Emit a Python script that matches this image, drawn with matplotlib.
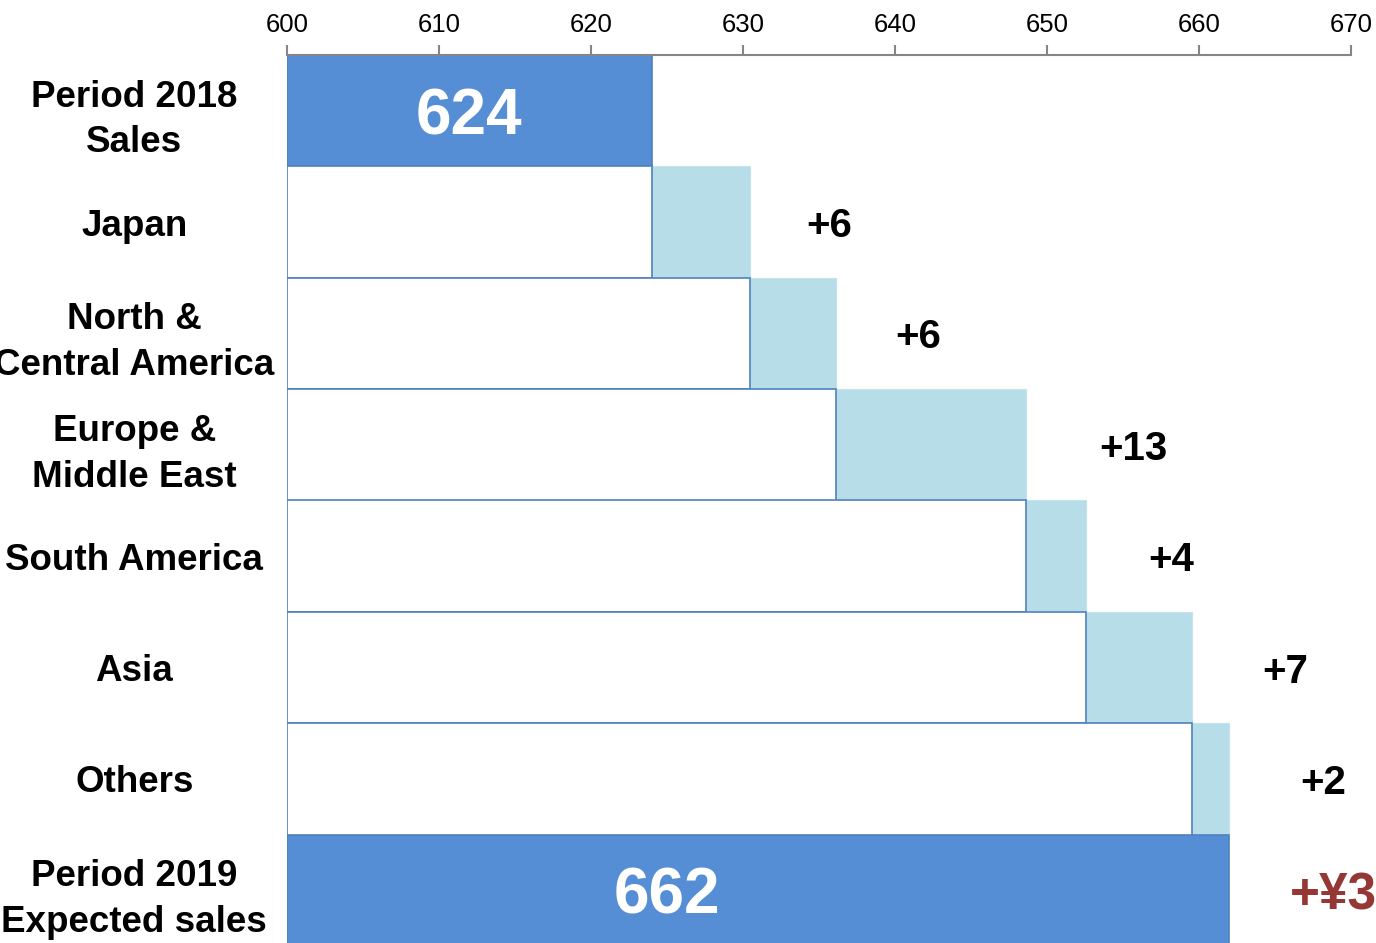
import numpy as np
import matplotlib
matplotlib.use("Agg")
import matplotlib.pyplot as plt

# Sales bridge (billion yen): last period -> regional changes -> forecast
categories = [
    "Period 2018\nSales",
    "Japan",
    "North &\nCentral America",
    "Europe &\nMiddle East",
    "South America",
    "Asia",
    "Others",
    "Period 2019\nExpected sales",
]
start_total = 624
region_changes = [6.45, 5.65, 12.55, 3.9, 7.0, 2.4]
end_total = 662
total_change_label = "+¥38"
x_ticks = [600, 610, 620, 630, 640, 650, 660, 670]

# Styling / layout constants
DARK_BLUE = "#558ed5"
LIGHT_BLUE = "#b7dde8"
EDGE_BLUE = "#4f81bd"
DARK_RED = "#953735"
AXIS_GRAY = "#868686"
label_gap = [3.7, 3.9, 4.8, 4.1, 4.6, 4.7]   # gap between bar end and change label (data units)
end_label_x = 625                             # x of the value inside the forecast bar

plt.rcParams["font.family"] = ["Liberation Sans", "DejaVu Sans"]

fig = plt.figure(figsize=(13.76, 9.43), dpi=100)
ax = fig.add_axes([287 / 1376, -3 / 943, 1064 / 1376, 891 / 943])

base = x_ticks[0]
rows = np.arange(len(categories))

# Opening total
ax.barh(rows[0], start_total - base, left=base, height=1.0,
        color=DARK_BLUE, edgecolor=EDGE_BLUE, linewidth=1.2, zorder=2)
ax.text(base + (start_total - base) / 2, rows[0], f"{start_total}",
        ha="center", va="center_baseline", color="white", fontsize=46,
        fontweight="bold", zorder=5)

# Regional steps
levels = start_total + np.concatenate([[0], np.cumsum(region_changes)])
for i, change in enumerate(region_changes):
    r = rows[i + 1]
    prev = levels[i]
    ax.barh(r, prev - base, left=base, height=1.0,
            color="white", edgecolor=EDGE_BLUE, linewidth=1.2, zorder=3)
    ax.barh(r, change, left=prev, height=1.0,
            color=LIGHT_BLUE, edgecolor="#c4e3ec", linewidth=0.8, zorder=2)
    ax.text(prev + change + label_gap[i], r, f"+{change:.0f}",
            ha="left", va="center_baseline", color="black", fontsize=29,
            fontweight="bold", zorder=5)

# Closing total
ax.barh(rows[-1], end_total - base, left=base, height=1.0,
        color=DARK_BLUE, edgecolor=EDGE_BLUE, linewidth=1.2, zorder=2)
ax.text(end_label_x, rows[-1], f"{end_total}",
        ha="center", va="center_baseline", color="white", fontsize=46,
        fontweight="bold", zorder=5)
ax.text(end_total + 4.0, rows[-1], total_change_label,
        ha="left", va="center_baseline", color=DARK_RED, fontsize=37,
        fontweight="bold", zorder=5, clip_on=False)

# Axes
ax.set_xlim(x_ticks[0], x_ticks[-1])
ax.set_ylim(len(categories) - 0.5, -0.5)
ax.xaxis.tick_top()
ax.set_xticks(x_ticks)
ax.set_xticklabels([str(t) for t in x_ticks])
ax.tick_params(axis="x", direction="out", length=7, width=1.5, color=AXIS_GRAY,
               labelsize=18.5, pad=6, labelcolor="black")
ax.set_yticks(rows)
ax.set_yticklabels(categories, fontsize=26.5, fontweight="bold", ha="center",
                   va="center_baseline", linespacing=1.4)
ax.tick_params(axis="y", length=0, pad=110)

for side in ("bottom", "left", "right"):
    ax.spines[side].set_visible(False)
ax.spines["top"].set_color(AXIS_GRAY)
ax.spines["top"].set_linewidth(1.5)
ax.spines["top"].set_zorder(6)
ax.set_facecolor("white")

fig.savefig("out.png", dpi=100, facecolor="white")
